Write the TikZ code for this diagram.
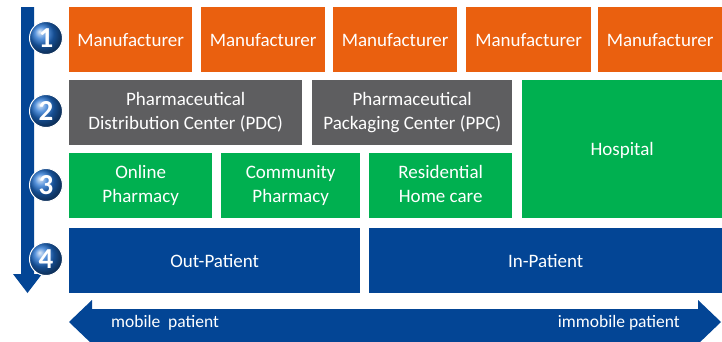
\documentclass[tikz,border=0pt]{standalone}
\usepackage{fontspec}
\setmainfont{Carlito}
\definecolor{mforange}{HTML}{EA600F}
\definecolor{pgray}{HTML}{5E5E60}
\definecolor{pgreen}{HTML}{00B050}
\definecolor{pblue}{HTML}{034595}
\definecolor{ballblue}{HTML}{1F6FD0}
\newcommand{\cellstrut}{\rule[-4pt]{0pt}{21pt}}
\tikzset{
  cell/.style={rectangle, inner sep=0pt, anchor=north west, text=white, align=center,
    font=\fontsize{19}{24}\selectfont,
    execute at begin node=\cellstrut, execute at end node=\cellstrut},
  numball/.style={circle, minimum size=33pt, inner sep=0pt, shade, ball color=ballblue,
    draw=white, line width=1pt, text=white, font=\fontsize{29}{29}\selectfont\bfseries},
  arrowtext/.style={text=white, font=\fontsize{17.5}{20}\selectfont, inner sep=0pt}
}
\begin{document}
\begin{tikzpicture}[x=1pt,y=-1pt]
\useasboundingbox (0,0) rectangle (722,341);
\clip (0,0) rectangle (722,341);
\fill[white] (0,0) rectangle (722,341);
% vertical arrow
\fill[pblue] (21,7) -- (34,7) -- (34,274) -- (42,274) -- (27.5,293) -- (13,274) -- (21,274) -- cycle;
% bottom arrow
\fill[pblue] (69,322) -- (92,300) -- (92,309) -- (698,309) -- (698,300) -- (721,322) -- (698,344) -- (92,344) -- cycle;
\node[arrowtext, anchor=west] (mob) at (111,323) {mobile\ \ patient};
\node[arrowtext, anchor=east] (immob) at (680,323) {immobile patient};
% row 1
\node[cell, fill=mforange, minimum width=123pt, minimum height=65pt] (m1) at (69,7) {Manufacturer};
\node[cell, fill=mforange, minimum width=124pt, minimum height=65pt] (m2) at (201,7) {Manufacturer};
\node[cell, fill=mforange, minimum width=124pt, minimum height=65pt] (m3) at (333,7) {Manufacturer};
\node[cell, fill=mforange, minimum width=125pt, minimum height=65pt] (m4) at (466,7) {Manufacturer};
\node[cell, fill=mforange, minimum width=124pt, minimum height=65pt] (m5) at (598,7) {Manufacturer};
% row 2
\node[cell, fill=pgray, minimum width=233pt, minimum height=65pt] (pdc) at (69,80) {Pharmaceutical\\Distribution Center (PDC)};
\node[cell, fill=pgray, minimum width=200pt, minimum height=65pt] (ppc) at (312,80) {Pharmaceutical\\Packaging Center (PPC)};
\node[cell, fill=pgreen, minimum width=200pt, minimum height=138pt] (hosp) at (522,80) {Hospital};
% row 3
\node[cell, fill=pgreen, minimum width=143pt, minimum height=65pt] (online) at (69,153) {Online\\Pharmacy};
\node[cell, fill=pgreen, minimum width=139pt, minimum height=65pt] (comm) at (221,153) {Community\\Pharmacy};
\node[cell, fill=pgreen, minimum width=143pt, minimum height=65pt] (resid) at (369,153) {Residential\\Home care};
% row 4
\node[cell, fill=pblue, minimum width=291pt, minimum height=65pt] (outp) at (69,228) {Out-Patient};
\node[cell, fill=pblue, minimum width=353pt, minimum height=65pt] (inp) at (369,228) {In-Patient};
% number balls
\node[numball] (n1) at (46,38) {1};
\node[numball] (n2) at (46,111) {2};
\node[numball] (n3) at (46,185) {3};
\node[numball] (n4) at (46,259) {4};
\end{tikzpicture}
\end{document}
